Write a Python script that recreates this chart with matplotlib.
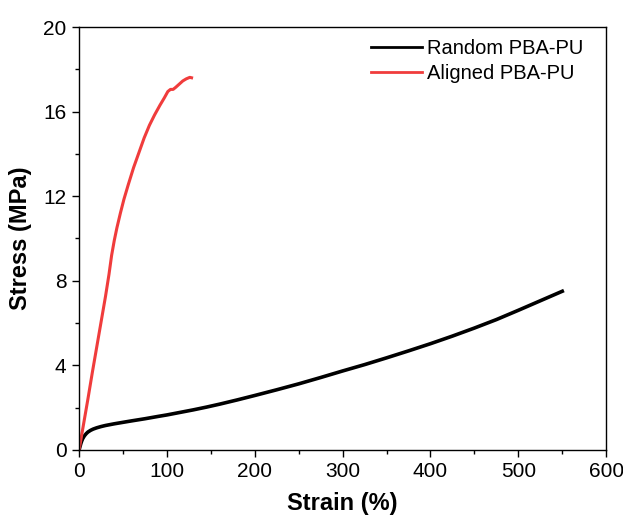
import numpy as np
import matplotlib.pyplot as plt
from matplotlib.ticker import MultipleLocator

plt.rcParams['font.family'] = ['Liberation Sans', 'DejaVu Sans']

# Random PBA-PU (strain %, stress MPa)
random_strain = [0, 1, 2, 3, 4, 6, 8, 10, 13, 16, 20, 25, 30, 40, 50, 60, 75, 90, 100,
                 115, 130, 145, 160, 180, 200, 225, 250, 275, 300, 325, 350, 375, 400,
                 425, 450, 475, 500, 525, 550]
random_stress = [0, 0.15, 0.3, 0.42, 0.52, 0.66, 0.76, 0.84, 0.92, 0.98, 1.04, 1.1,
                 1.15, 1.23, 1.3, 1.37, 1.47, 1.58, 1.65, 1.77, 1.89, 2.02, 2.16, 2.36,
                 2.57, 2.84, 3.12, 3.42, 3.73, 4.03, 4.35, 4.68, 5.02, 5.38, 5.76, 6.16,
                 6.6, 7.05, 7.5]

# Aligned PBA-PU
aligned_strain = [0, 5, 10, 15, 20, 25, 30, 34, 37, 40, 43, 47, 51, 56, 62, 68, 74, 80,
                  86, 92, 97, 101, 104, 107, 110, 114, 118, 122, 126, 128]
aligned_stress = [0, 1.2, 2.4, 3.65, 4.85, 6.05, 7.25, 8.3, 9.2, 9.9, 10.5, 11.2, 11.85,
                  12.55, 13.35, 14.05, 14.75, 15.35, 15.85, 16.3, 16.65, 16.95, 17.05,
                  17.05, 17.15, 17.3, 17.45, 17.55, 17.62, 17.6]

fig = plt.figure(figsize=(6.23, 5.2), dpi=100)
ax = fig.add_axes([0.127, 0.135, 0.846, 0.813])

ax.plot(random_strain, random_stress, color='black', lw=2.6, label='Random PBA-PU',
        solid_joinstyle='round')
ax.plot(aligned_strain, aligned_stress, color='#f03c3c', lw=2.2, label='Aligned PBA-PU',
        solid_joinstyle='round')

ax.set_xlim(0, 600)
ax.set_ylim(0, 20)
ax.xaxis.set_major_locator(MultipleLocator(100))
ax.xaxis.set_minor_locator(MultipleLocator(50))
ax.yaxis.set_major_locator(MultipleLocator(4))
ax.yaxis.set_minor_locator(MultipleLocator(2))
ax.tick_params(which='major', direction='out', length=5, width=1, labelsize=15, pad=4)
ax.tick_params(which='minor', direction='out', length=3, width=1)
for s in ax.spines.values():
    s.set_linewidth(1)

ax.set_xlabel('Strain (%)', fontsize=17, fontweight='bold', labelpad=8)
ax.set_ylabel('Stress (MPa)', fontsize=17, fontweight='bold', labelpad=8)

leg = ax.legend(loc='upper right', bbox_to_anchor=(0.979, 1.0), frameon=False,
                fontsize=14.5, handlelength=2.5, handletextpad=0.25,
                borderaxespad=0.2, labelspacing=0.3)
for line in leg.get_lines():
    line.set_linewidth(2)

fig.savefig('out.png', dpi=100)
